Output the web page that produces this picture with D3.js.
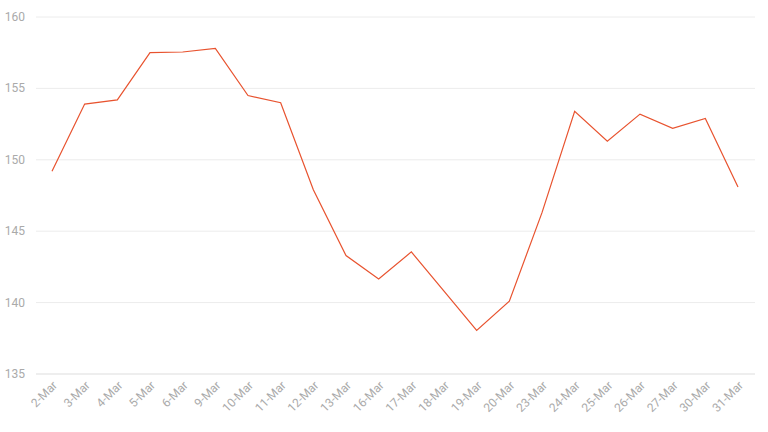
<!DOCTYPE html>
<html><head><meta charset="utf-8">
<script src="https://cdn.jsdelivr.net/npm/d3@7"></script>
<style>body{margin:0;background:#fff}svg{font-family:"Helvetica Neue",Roboto,"Noto Sans",sans-serif}</style>
</head><body><svg id="c" width="768" height="432"></svg>
<script>
const categories=["2-Mar","3-Mar","4-Mar","5-Mar","6-Mar","9-Mar","10-Mar","11-Mar","12-Mar","13-Mar","16-Mar","17-Mar","18-Mar","19-Mar","20-Mar","23-Mar","24-Mar","25-Mar","26-Mar","27-Mar","30-Mar","31-Mar"];
const values=[149.2,153.9,154.2,157.5,157.55,157.8,154.5,154.0,147.9,143.3,141.65,143.55,140.8,138.05,140.1,146.3,153.4,151.3,153.2,152.2,152.9,148.1];
const yTicks=[135,140,145,150,155,160];
const svg=d3.select("#c");
const x=d3.scalePoint().domain(categories).range([52,738]);
const y=d3.scaleLinear().domain([135,160]).range([374,17]);
const g=svg.append("g");
yTicks.forEach(t=>{
 g.append("line").attr("x1",36).attr("x2",755).attr("y1",y(t)).attr("y2",y(t)).attr("stroke",t===135?"#ddd":"#ececec").attr("stroke-width",1);
 g.append("text").attr("x",25).attr("y",y(t)+4).attr("text-anchor","end").attr("font-size",12).attr("fill","#aaa").text(t);
});
categories.forEach(c=>{
 svg.append("text").attr("transform",`translate(${x(c)+6},${386}) rotate(-45)`).attr("text-anchor","end").attr("font-size",12).attr("fill","#aaa").text(c);
});
svg.append("path").datum(values).attr("fill","none").attr("stroke","#e8532f").attr("stroke-width",1.2)
 .attr("d",d3.line().x((d,i)=>x(categories[i])).y(d=>y(d)));
</script></body></html>
